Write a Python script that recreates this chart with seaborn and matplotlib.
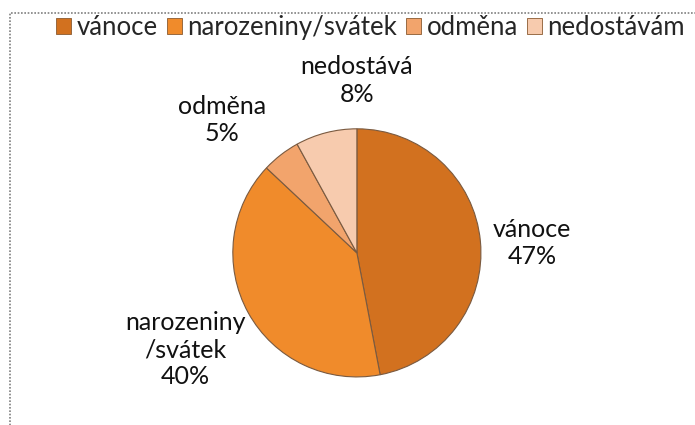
import matplotlib
matplotlib.use("Agg")
import matplotlib.pyplot as plt
import matplotlib.patches as mpatches
import seaborn as sns

# data
categories = ["vánoce", "narozeniny/svátek", "odměna", "nedostávám"]
slice_labels = ["vánoce", "narozeniny\n/svátek", "odměna", "nedostává"]
values = [47, 40, 5, 8]
colors = ["#D2711F", "#F08B2B", "#F2A46C", "#F7CBAE"]

sns.set_theme(style="white")
plt.rcParams["font.family"] = ["Lato", "DejaVu Sans"]

fig = plt.figure(figsize=(6.95, 4.25), dpi=100)
ax = fig.add_axes([0.335, 0.113, 0.357, 0.584])

wedges, _ = ax.pie(values, colors=colors, startangle=90, counterclock=False,
                   wedgeprops=dict(edgecolor="#7a5a40", linewidth=0.8))
ax.set_xlim(-1, 1)
ax.set_ylim(-1, 1)
ax.set_aspect("equal")

# label positions around the pie (pie radius = 1)
label_pos = [(1.41, 0.08), (-1.38, -0.78), (-1.09, 1.07), (0.0, 1.39)]
for lab, v, (x, y) in zip(slice_labels, values, label_pos):
    ax.text(x, y, f"{lab}\n{v}%", ha="center", va="center", fontsize=18,
            color="#111111", linespacing=1.22, clip_on=False)

handles = [mpatches.Patch(facecolor=c, edgecolor="#8a5a30", linewidth=0.6) for c in colors]
fig.legend(handles, categories, loc="center", bbox_to_anchor=(0.533, 0.935), ncol=4,
           frameon=False, fontsize=18.5, handlelength=0.6, handleheight=0.6,
           handletextpad=0.2, columnspacing=0.35)

# dotted chart border
border = mpatches.Rectangle((10 / 695, -0.05), 1.0, 1 - 13 / 425 + 0.05,
                            transform=fig.transFigure, fill=False,
                            edgecolor="#808080", linestyle=(0, (1, 1)), linewidth=1.2)
fig.patches.append(border)

fig.savefig("out.png", dpi=100)
